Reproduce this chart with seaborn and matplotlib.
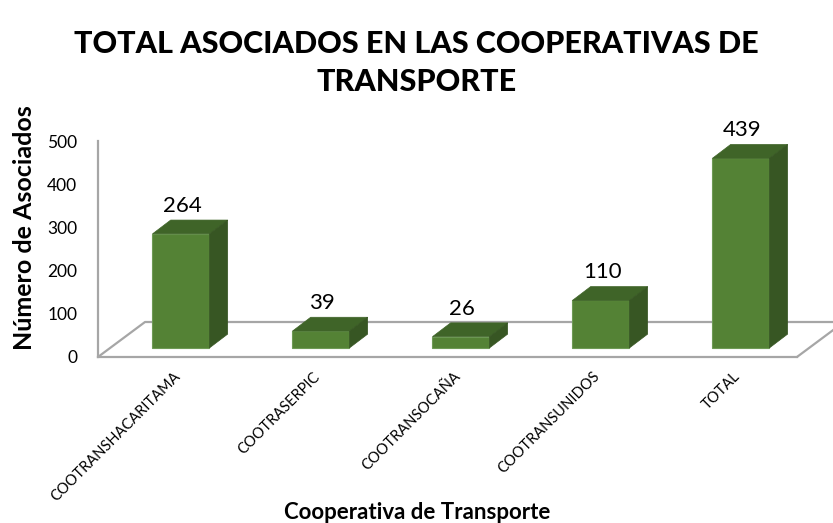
import matplotlib
matplotlib.use("Agg")
import matplotlib.pyplot as plt
import pandas as pd
import seaborn as sns
from matplotlib.patches import Polygon
from matplotlib.transforms import ScaledTranslation

# --- Data ---
cooperativas = ["COOTRANSHACARITAMA", "COOTRASERPIC", "COOTRANSOCAÑA", "COOTRANSUNIDOS", "TOTAL"]
asociados = [264, 39, 26, 110, 439]
y_ticks = [0, 100, 200, 300, 400, 500]

# --- Style constants (Excel "3D column" look) ---
FRONT = "#548235"
TOP = "#3f6428"
SIDE = "#375623"
LINE = "#a6a6a6"
BASE = 21                    # bars stand a little behind the front edge of the floor
DEPTH_X, DEPTH_Y = 0.13, 32  # offset of the bar top / side faces
FLOOR_X, FLOOR_Y = 0.336, 81 # depth of the floor parallelogram

sns.set_theme(style="white")
plt.rcParams["font.family"] = ["Lato", "DejaVu Sans"]
plt.rcParams["text.color"] = "black"

fig = plt.figure(figsize=(8.33, 5.23), dpi=100)
ax = fig.add_axes([0.1176, 0.3174, 0.8391, 0.413])

df = pd.DataFrame({"cooperativa": cooperativas, "asociados": asociados})
sns.barplot(data=df, x="cooperativa", y="asociados", color=FRONT, saturation=1,
            width=0.407, bottom=BASE, edgecolor="#6e9a55", linewidth=0.8,
            ax=ax, zorder=3)

# top and side faces, built from each bar seaborn drew
for bar in ax.patches[:len(asociados)]:
    x0, w = bar.get_x(), bar.get_width()
    y0, y1 = bar.get_y(), bar.get_y() + bar.get_height()
    top = [(x0, y1), (x0 + w, y1), (x0 + w + DEPTH_X, y1 + DEPTH_Y), (x0 + DEPTH_X, y1 + DEPTH_Y)]
    side = [(x0 + w, y0), (x0 + w + DEPTH_X, y0 + DEPTH_Y), (x0 + w + DEPTH_X, y1 + DEPTH_Y), (x0 + w, y1)]
    ax.add_patch(Polygon(top, closed=True, facecolor=TOP, edgecolor=TOP, lw=0.5, zorder=3))
    ax.add_patch(Polygon(side, closed=True, facecolor=SIDE, edgecolor=SIDE, lw=0.5, zorder=3))

# value labels
for i, v in enumerate(asociados):
    ax.annotate(str(v), (i + 0.01, BASE + v + DEPTH_Y), xytext=(0, 6),
                textcoords="offset points", ha="center", va="baseline",
                fontsize=16, color="black", zorder=5)

x_left, x_right = -0.593, 4.4
ax.set_xlim(x_left, x_right)
ax.set_ylim(0, 500)

# floor of the 3d box
ax.plot([x_left, x_left + FLOOR_X, x_right + 1.0], [0, FLOOR_Y, FLOOR_Y],
        color=LINE, lw=1.6, clip_on=False, zorder=1)
ax.plot([x_right, x_right + FLOOR_X], [0, FLOOR_Y],
        color=LINE, lw=1.6, clip_on=False, zorder=1)

sns.despine(ax=ax, top=True, right=True)
for side_name in ["left", "bottom"]:
    ax.spines[side_name].set_color(LINE)
    ax.spines[side_name].set_linewidth(1.6)

ax.set_yticks(y_ticks)
ax.set_yticklabels([str(t) for t in y_ticks], fontsize=12.5, color="black")
ax.tick_params(axis="y", length=0, pad=15)
ax.tick_params(axis="x", length=0, pad=9)
ax.set_xticks(range(len(cooperativas)))
ax.set_xticklabels(cooperativas, rotation=45, ha="right", va="top",
                   rotation_mode="anchor", fontsize=10.5, color="black")
for lab in ax.get_xticklabels():
    lab.set_transform(lab.get_transform() + ScaledTranslation(-8 / 100, 0, fig.dpi_scale_trans))

ax.set_ylabel("Número de Asociados", fontsize=18, fontweight="bold", color="black")
ax.yaxis.set_label_coords(-0.088, 0.597)
ax.set_xlabel("Cooperativa de Transporte", fontsize=16, fontweight="bold", color="black")
ax.xaxis.set_label_coords(0.456, -0.672)

fig.suptitle("TOTAL ASOCIADOS EN LAS COOPERATIVAS DE\nTRANSPORTE", x=0.5, y=1 - 30 / 523,
             va="top", fontsize=22, fontweight="black", color="black", linespacing=1.45)

fig.savefig("out.png", dpi=100)
